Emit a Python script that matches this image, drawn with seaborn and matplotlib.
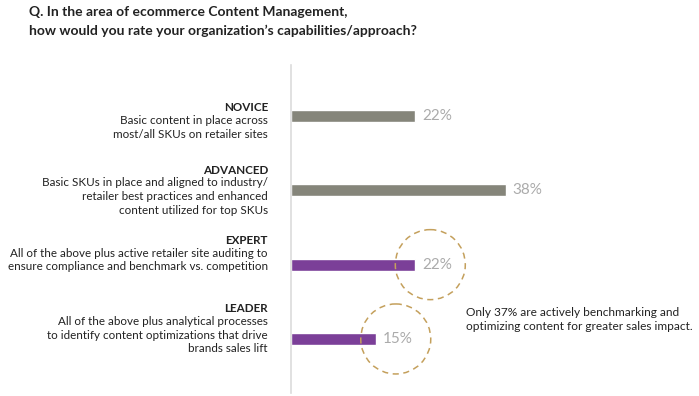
import matplotlib
matplotlib.use("Agg")
import matplotlib.pyplot as plt
from matplotlib.patches import Ellipse
import pandas as pd
import seaborn as sns

levels = ["NOVICE", "ADVANCED", "EXPERT", "LEADER"]
descriptions = [
    "Basic content in place across\nmost/all SKUs on retailer sites",
    "Basic SKUs in place and aligned to industry/\nretailer best practices and enhanced\ncontent utilized for top SKUs",
    "All of the above plus active retailer site auditing to\nensure compliance and benchmark vs. competition",
    "All of the above plus analytical processes\nto identify content optimizations that drive\nbrands sales lift",
]
shares = [22, 38, 22, 15]
highlighted = ["EXPERT", "LEADER"]
title = ("Q. In the area of ecommerce Content Management,\n"
         "how would you rate your organization\u2019s capabilities/approach?")
note = ("Only 37% are actively benchmarking and\n"
        "optimizing content for greater sales impact.")

GRAY = "#85857a"
PURPLE = "#7b3f98"
GOLD = "#c4a05c"

sns.set_style("white")
plt.rcParams["font.family"] = ["Lato", "DejaVu Sans"]

df = pd.DataFrame({"level": levels, "share": shares})
palette = {lv: (PURPLE if lv in highlighted else GRAY) for lv in levels}

fig = plt.figure(figsize=(6.99, 3.96), dpi=100)
ax = fig.add_axes([291 / 699, 3 / 396, 408 / 699, 328 / 396])
sns.barplot(data=df, x="share", y="level", hue="level", palette=palette,
            width=0.16, legend=False, ax=ax, saturation=1)

ax.set_xlim(0, 408 / 5.65)
ax.set_ylim(3.727, -0.686)
ax.set_xlabel("")
ax.set_ylabel("")
ax.set_xticks([])
ax.set_yticks([])
for side in ["top", "right", "bottom"]:
    ax.spines[side].set_visible(False)
ax.spines["left"].set_color("#dcdcdc")
ax.spines["left"].set_linewidth(1.2)

# headings/descriptions on the left, offset in pixels from each bar
head_dy = [8, 20, 24, 30]
for i, (lv, desc) in enumerate(zip(levels, descriptions)):
    ax.annotate(lv, xy=(0, i), xytext=(-23, head_dy[i]), textcoords="offset pixels",
                ha="right", va="center", fontsize=8.4, fontweight="bold",
                color="#222222", annotation_clip=False)
    ax.annotate(desc, xy=(0, i), xytext=(-23, head_dy[i] - 7), textcoords="offset pixels",
                ha="right", va="top", fontsize=8.35, color="#222222",
                linespacing=1.3, multialignment="right", annotation_clip=False)

for i, v in enumerate(shares):
    ax.annotate(f"{v}%", xy=(v, i), xytext=(7, 0), textcoords="offset pixels",
                ha="left", va="center", fontsize=11, fontweight="normal",
                color="#ababab", annotation_clip=False)

# dashed circles around the highlighted values
circle_dx = {"EXPERT": 15, "LEADER": 20}
for i, lv in enumerate(levels):
    if lv in highlighted:
        cx = shares[i] + circle_dx[lv] / 5.65
        ax.add_patch(Ellipse((cx, i), width=70 / 5.65, height=70 / 74.3,
                             fill=False, edgecolor=GOLD, linestyle=(0, (4, 3)),
                             linewidth=1.1, clip_on=False))

fig.text(29 / 699, 1 - 6 / 396, title, ha="left", va="top", fontsize=10,
         fontweight="bold", color="#222222", linespacing=1.6)
fig.text(466 / 699, 1 - 319.5 / 396, note, ha="left", va="center",
         fontsize=8.6, color="#222222", linespacing=1.25)

fig.savefig("out.png", dpi=100)
